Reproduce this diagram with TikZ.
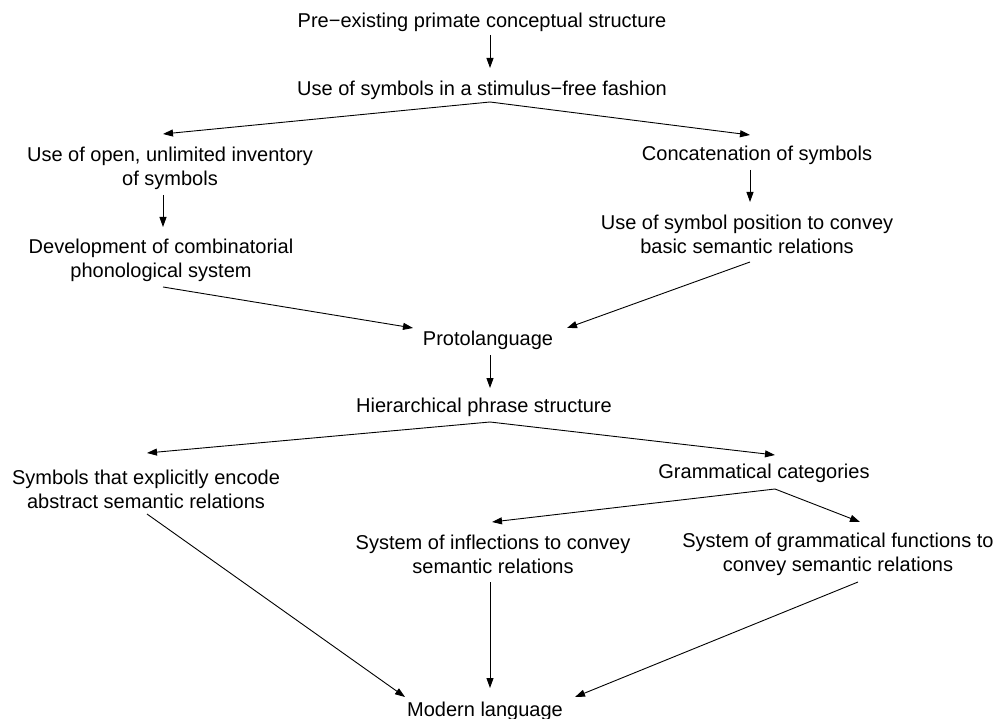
\documentclass[tikz,border=0pt]{standalone}
\usepackage{fontspec}
\setmainfont{Liberation Sans}
\usetikzlibrary{arrows.meta}

\begin{document}
\begin{tikzpicture}[x=1pt, y=1pt,
  lbl/.style={inner sep=0pt, align=center, font=\fontsize{20}{24}\selectfont},
  edge/.style={line width=0.9pt, -{Triangle[length=10pt,width=7pt]}}]
\useasboundingbox (0,0) rectangle (998,-719);

% stages of the evolutionary sequence
\node[lbl] (pre)   at (482,-22)  {Pre−existing primate conceptual structure};
\node[lbl] (free)  at (482,-90)  {Use of symbols in a stimulus−free fashion};
\node[lbl] (open)  at (170,-168) {Use of open, unlimited inventory\\of symbols};
\node[lbl] (phon)  at (161,-260) {Development of combinatorial\\phonological system};
\node[lbl] (conc)  at (757,-155) {Concatenation of symbols};
\node[lbl] (pos)   at (747,-234) {Use of symbol position to convey\\basic semantic relations};
\node[lbl] (proto) at (488,-340) {Protolanguage};
\node[lbl] (hier)  at (484,-407) {Hierarchical phrase structure};
\node[lbl] (expl)  at (146,-489) {Symbols that explicitly encode\\abstract semantic relations};
\node[lbl] (gram)  at (764,-473) {Grammatical categories};
\node[lbl] (infl)  at (493,-554) {System of inflections to convey\\semantic relations};
\node[lbl] (func)  at (838,-554) {System of grammatical functions to\\convey semantic relations};
\node[lbl] (mod)   at (485,-711) {Modern language};

% connectors
\draw[edge] ([shift={(8,-13)}]pre.center)  -- ([shift={(8,22)}]free.center);
\draw[edge] ([shift={(8,-12)}]free.center) -- ([shift={(-7,34)}]open.center);
\draw[edge] ([shift={(8,-12)}]free.center) -- ([shift={(-7,20)}]conc.center);
\draw[edge] ([shift={(-7,-27)}]open.center) -- ([shift={(2,33)}]phon.center);
\draw[edge] ([shift={(-7,-15)}]conc.center) -- ([shift={(3,32)}]pos.center);
\draw[edge] ([shift={(2,-27)}]phon.center) -- ([shift={(-75,12)}]proto.center);
\draw[edge] ([shift={(3,-28)}]pos.center)  -- ([shift={(79,12)}]proto.center);
\draw[edge] ([shift={(2,-15)}]proto.center) -- ([shift={(6,19)}]hier.center);
\draw[edge] ([shift={(6,-15)}]hier.center) -- ([shift={(1,36)}]expl.center);
\draw[edge] ([shift={(6,-15)}]hier.center) -- ([shift={(11,18)}]gram.center);
\draw[edge] ([shift={(11,-16)}]gram.center) -- ([shift={(-1,32)}]infl.center);
\draw[edge] ([shift={(11,-16)}]gram.center) -- ([shift={(22,32)}]func.center);
\draw[edge] ([shift={(1,-25)}]expl.center) -- ([shift={(-80,14)}]mod.center);
\draw[edge] ([shift={(-3,-28)}]infl.center) -- ([shift={(5,23)}]mod.center);
\draw[edge] ([shift={(20,-28)}]func.center) -- ([shift={(90,14)}]mod.center);
\end{tikzpicture}
\end{document}
